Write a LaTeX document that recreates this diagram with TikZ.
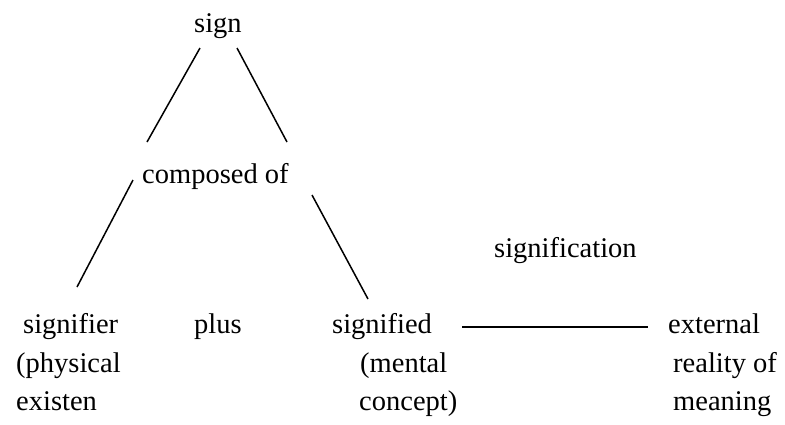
\documentclass[tikz,border=0pt]{standalone}
\usepackage{fontspec}
\setmainfont{Liberation Serif}
\begin{document}
\begin{tikzpicture}[x=1pt,y=-1pt,
  lbl/.style={anchor=base west,inner sep=0pt,font=\fontsize{28.5}{34}\selectfont},
  conn/.style={line width=1.5pt}]
\useasboundingbox (0,0) rectangle (785,424);
\node[lbl] (sign) at (194,32) {sign};
\node[lbl] (comp) at (142,183) {composed of};
\node[lbl] (signif) at (494,257) {signification};
\node[lbl] (sr1) at (23,333) {signifier};
\node[lbl] (sr2) at (16,372) {(physical};
\node[lbl] (sr3) at (16,410) {existen};
\node[lbl] (plus) at (194,333) {plus};
\node[lbl] (sd1) at (332,333) {signified};
\node[lbl] (sd2) at (360,372) {(mental};
\node[lbl] (sd3) at (359,410) {concept)};
\node[lbl] (ex1) at (668,333) {external};
\node[lbl] (ex2) at (673,372) {reality of};
\node[lbl] (ex3) at (673,410) {meaning};
\coordinate (a1) at (200,48);  \coordinate (a2) at (147,142);
\coordinate (b1) at (237,48);  \coordinate (b2) at (287,142);
\coordinate (c1) at (133,180); \coordinate (c2) at (77,287);
\coordinate (d1) at (312,195); \coordinate (d2) at (368,299);
\coordinate (e1) at (462,327); \coordinate (e2) at (648,327);
\draw[conn] (a1) -- (a2);
\draw[conn] (b1) -- (b2);
\draw[conn] (c1) -- (c2);
\draw[conn] (d1) -- (d2);
\draw[conn] (e1) -- (e2);
\end{tikzpicture}
\end{document}
